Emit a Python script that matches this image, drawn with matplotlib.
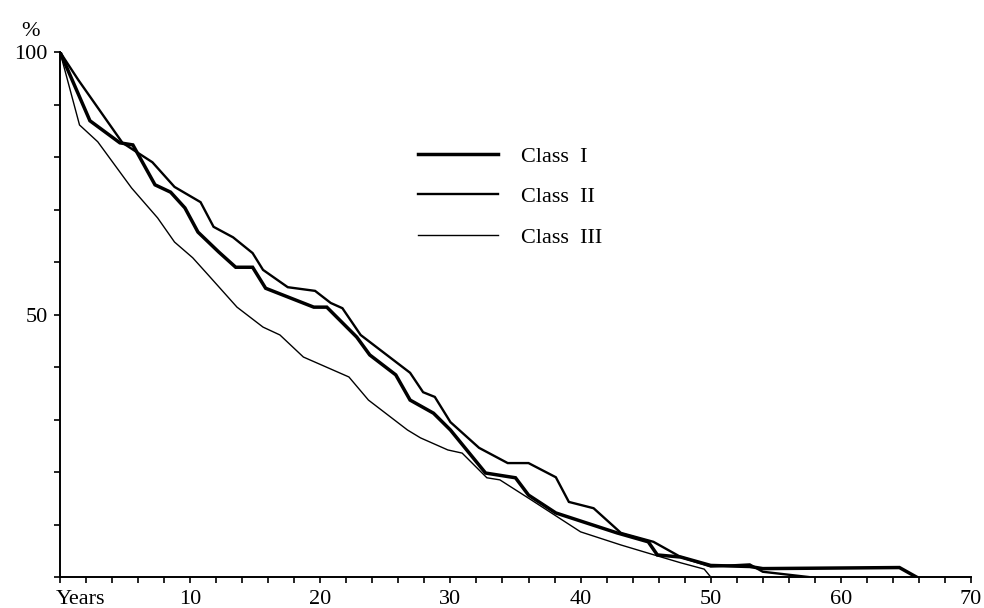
import matplotlib
matplotlib.use("Agg")
import matplotlib.pyplot as plt
from matplotlib.ticker import MultipleLocator

plt.rcParams['font.family'] = ['Liberation Serif', 'DejaVu Serif']

# Survival curves (years, % remaining)
class1_years = [0, 2.3, 4.6, 5.6, 7.3, 8.5, 9.6, 10.6, 12.2, 13.5, 14.8, 15.8, 19.5, 20.5,
                22.8, 23.8, 25.8, 26.9, 28.7, 30.0, 32.7, 35.0, 36.0, 38.1, 42.8, 45.2,
                45.9, 47.7, 50.0, 53.0, 54.0, 64.5, 65.8]
class1_pct = [100, 86.9, 82.7, 82.3, 74.7, 73.3, 70.3, 65.7, 61.9, 59.0, 59.0, 55.0, 51.4, 51.4,
              45.7, 42.3, 38.5, 33.7, 31.2, 28.0, 19.8, 18.9, 15.6, 12.2, 8.4, 6.7,
              4.2, 3.8, 2.2, 2.0, 1.6, 1.8, 0]

class2_years = [0, 1.4, 4.8, 7.1, 8.8, 10.8, 11.8, 13.3, 14.8, 15.6, 17.5, 19.6, 20.8, 21.7,
                23.1, 26.9, 27.9, 28.8, 30.0, 32.2, 34.4, 36.0, 38.1, 39.1, 41.0, 43.1,
                45.6, 47.7, 50.0, 53.0, 54.0, 57.5]
class2_pct = [100, 94.7, 82.7, 79.0, 74.3, 71.4, 66.7, 64.7, 61.7, 58.5, 55.2, 54.5, 52.2, 51.2,
              46.1, 38.9, 35.2, 34.3, 29.5, 24.6, 21.7, 21.7, 19.0, 14.3, 13.1, 8.4,
              6.7, 3.8, 2.0, 2.4, 1.0, 0]

class3_years = [0, 1.5, 2.9, 5.5, 7.5, 8.8, 10.2, 11.4, 13.6, 15.6, 16.9, 18.7, 22.2, 23.7,
                26.7, 27.7, 29.8, 30.9, 32.8, 33.8, 36.2, 40.0, 43.1, 46.2, 47.7, 49.5, 50.0]
class3_pct = [100, 86.1, 82.9, 74.1, 68.4, 63.8, 60.8, 57.5, 51.4, 47.6, 46.1, 41.9, 38.1, 33.7,
              28.0, 26.5, 24.2, 23.6, 18.9, 18.5, 14.7, 8.6, 6.1, 3.8, 2.7, 1.5, 0]

y_labels = {50: '50', 100: '100'}

fig = plt.figure(figsize=(9.84, 6.08), dpi=100)
ax = fig.add_axes([60 / 984, 31 / 608, 911 / 984, 525 / 608])

ax.plot(class1_years, class1_pct, color='black', lw=2.5, label='Class  I', solid_joinstyle='miter')
ax.plot(class2_years, class2_pct, color='black', lw=1.7, label='Class  II', solid_joinstyle='miter')
ax.plot(class3_years, class3_pct, color='black', lw=1.0, label='Class  III', solid_joinstyle='miter')

ax.set_xlim(0, 70)
ax.set_ylim(0, 100)

for side in ['top', 'right']:
    ax.spines[side].set_visible(False)
for side in ['left', 'bottom']:
    ax.spines[side].set_linewidth(1.4)

ax.xaxis.set_major_locator(MultipleLocator(10))
ax.xaxis.set_minor_locator(MultipleLocator(2))
ax.set_yticks(list(y_labels.keys()))
ax.set_yticklabels(list(y_labels.values()))
ax.yaxis.set_minor_locator(MultipleLocator(10))
ax.set_xticklabels(['' if t == 0 else str(int(t)) for t in ax.get_xticks()])
ax.tick_params(which='both', direction='out', width=1.2, labelsize=16, color='black')
ax.tick_params(which='major', length=4, pad=5)
ax.tick_params(which='minor', length=4)

ax.text(-0.005, -0.025, 'Years', transform=ax.transAxes, fontsize=16, ha='left', va='top')
ax.text(-0.032, 1.04, '%', transform=ax.transAxes, fontsize=16, ha='center', va='center')

ax.legend(loc='upper left', bbox_to_anchor=(418 / 984, 1 - 146 / 608),
          bbox_transform=fig.transFigure, frameon=False, fontsize=16,
          handlelength=3.6, handletextpad=1.05, labelspacing=0.9,
          borderpad=0, borderaxespad=0)

fig.savefig('out.png', dpi=100)
